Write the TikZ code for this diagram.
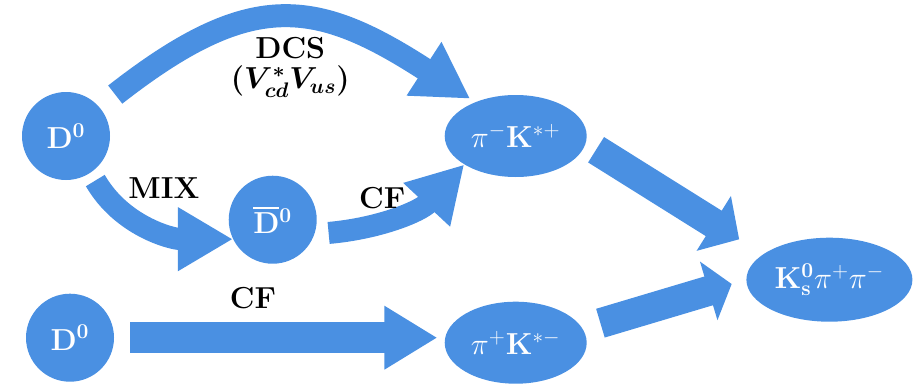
\documentclass[tikz,border=0pt]{standalone}
\usepackage{amsmath,amssymb}
\usepackage{xcolor}
\usepackage{tikz}
\usetikzlibrary{arrows.meta,positioning,calc,shapes.geometric}
\definecolor{flowc}{RGB}{74,144,226}
\newcommand{\Dz}{\mathbf{D^0}}
\newcommand{\Dzb}{\mathbf{\overline{D}{}^0}}
\tikzset{
  meson/.style={circle, fill=flowc, text=white, font=\LARGE,
    minimum size=1.76cm, inner sep=0pt},
  final/.style={ellipse, fill=flowc, text=white, font=\LARGE,
    minimum width=2.84cm, minimum height=1.64cm, inner sep=1pt},
  amp/.style={font=\LARGE\bfseries, text=black, inner sep=0pt,
    outer sep=0pt},
  flow/.style={draw=flowc, line width=0.44cm,
    -{Triangle[length=1.1cm, width=1.2cm]}},
  wide/.style={draw=flowc, line width=0.6cm}}

\begin{document}
\begin{tikzpicture}
  \useasboundingbox (0,0) rectangle (18.28,7.70);
  % ---- the three initial states and the intermediate resonances
  \node[meson] (D0a) at (1.32,4.98) {$\Dz$};
  \node[final, right=6.68cm of D0a] (pimK) {$\pi^-\mathbf{K}^{*+}$};
  \node[meson, below right=0.42cm and 2.88cm of D0a] (Dbar) {$\Dzb$};
  \node[meson, below=2.26cm of D0a, xshift=0.08cm] (D0b) {$\Dz$};
  \node[final, below=2.48cm of pimK] (pipK) {$\pi^+\mathbf{K}^{*-}$};
  \node[final, minimum width=3.32cm, minimum height=1.68cm,
    right=3.18cm of pipK, yshift=1.26cm] (Ks) {$\mathbf{K^0_s}\pi^+\pi^-$};
  % ---- doubly Cabibbo suppressed path over the top
  \draw[flow, line width=0.46cm, shorten <=0.4cm, shorten >=0.12cm]
    (D0a.41) to[out=38, in=147, looseness=1.3]
    node[pos=0.52, below=0.32cm, amp, align=center]
      {DCS\\[-5pt]{\boldmath$(V^*_{cd}V_{us})$}} (pimK.140);
  % ---- mixing, then the favoured decay of the antiparticle
  \draw[flow, shorten <=0.18cm] (D0a.-56) to[out=-60, in=180]
    node[pos=0.3, anchor=south west, xshift=0.1cm, yshift=0.24cm, amp]
      {MIX} (Dbar.206);
  \draw[flow, shorten <=0.28cm] (Dbar.-19) to[out=5, in=227]
    node[pos=0.4, above=0.24cm, amp] {CF} (pimK.209);
  % ---- Cabibbo favoured straight path
  \draw[flow, line width=0.62cm, -{Triangle[length=1.06cm, width=1.2cm]},
    shorten <=0.32cm, shorten >=0.14cm]
    (D0b.east) -- node[pos=0.42, above=0.58cm, amp] {CF}
    (D0b.east -| pipK.west);
  % ---- both resonances feed the same final state
  \draw[wide, -{Triangle[length=0.6cm, width=1.26cm]},
    shorten <=0.24cm, shorten >=0.56cm] (pimK.-6) -- (Ks.159);
  \draw[wide, -{Triangle[length=0.48cm, width=1.2cm]},
    shorten <=0.37cm, shorten >=0.3cm] (pipK.12) -- (Ks.180);
\end{tikzpicture}
\end{document}
